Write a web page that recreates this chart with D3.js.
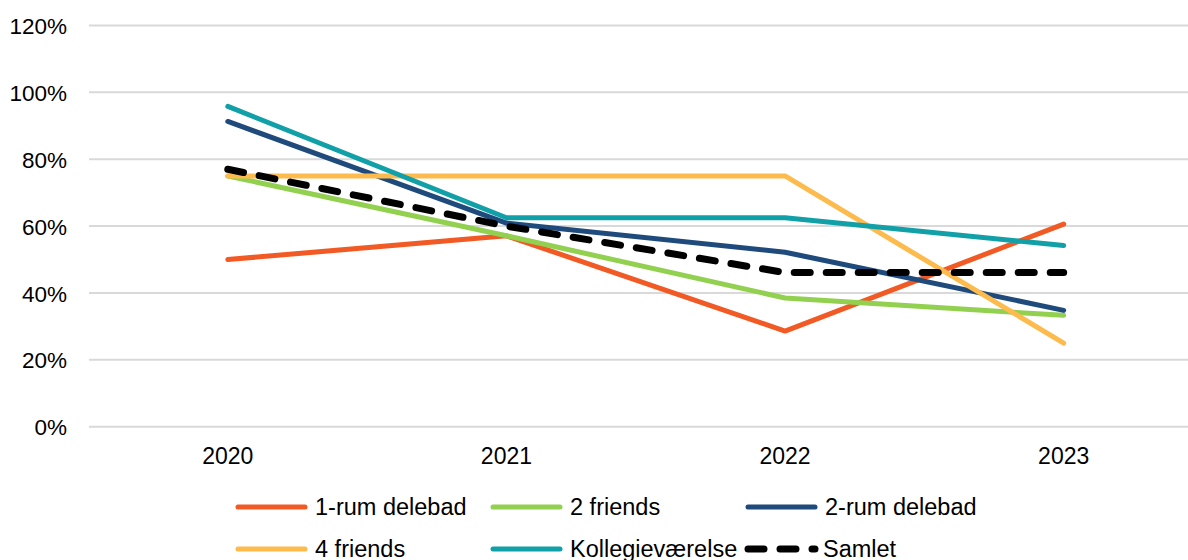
<!DOCTYPE html>
<html>
<head>
<meta charset="utf-8">
<script src="https://cdn.jsdelivr.net/npm/d3@7"></script>
<style>
  html, body { margin: 0; padding: 0; background: #fff; overflow: hidden; }
  svg { display: block; font-family: "Liberation Sans", Arial, sans-serif; }
</style>
</head>
<body>
<svg id="chart" width="1188" height="560"></svg>
<script>
// Years on the x axis
const years = ["2020", "2021", "2022", "2023"];

// Share per housing type, in percent
const rum1Delebad     = [50.0, 57.1, 28.6, 60.6];
const friends2        = [75.0, 57.1, 38.5, 33.3];
const rum2Delebad     = [91.3, 60.9, 52.2, 34.8];
const friends4        = [75.0, 75.0, 75.0, 25.0];
const kollegievaerelse = [95.8, 62.5, 62.5, 54.2];
const samlet          = [77.0, 60.0, 46.1, 46.1];

// Y axis tick values
const yTicks = [0, 20, 40, 60, 80, 100, 120];

const seriesNames  = ["1-rum delebad", "2 friends", "2-rum delebad", "4 friends", "Kollegieværelse", "Samlet"];
const seriesValues = [rum1Delebad, friends2, rum2Delebad, friends4, kollegievaerelse, samlet];
const seriesColors = ["#F15A24", "#92D050", "#1F4A7C", "#FDBA4D", "#12A0A8", "#000000"];

const series = seriesNames.map((name, i) => ({
  name, values: seriesValues[i], color: seriesColors[i], dashed: name === "Samlet"
}));

const svg = d3.select("#chart");

const x = d3.scaleBand().domain(years).range([88.5, 1203]);
const y = d3.scaleLinear().domain([0, 120]).range([426.7, 25.5]);

// Horizontal gridlines
svg.append("g")
  .selectAll("line")
  .data(yTicks)
  .join("line")
  .attr("x1", 89).attr("x2", 1188)
  .attr("y1", d => y(d)).attr("y2", d => y(d))
  .attr("stroke", "#d9d9d9").attr("stroke-width", 2);

// Y axis labels
const yAxis = d3.axisLeft(y).tickValues(yTicks).tickFormat(d => d + "%").tickSize(0).tickPadding(0);
const gy = svg.append("g").attr("transform", "translate(67,0)").call(yAxis);
gy.select(".domain").remove();
gy.selectAll("text").attr("font-size", 22.5).attr("fill", "#000")
  .attr("font-family", "Liberation Sans, Arial, sans-serif").attr("dy", "0.36em");

// X axis labels
const xAxis = d3.axisBottom(x).tickSize(0).tickPadding(0);
const gx = svg.append("g").attr("transform", "translate(0,447)").call(xAxis);
gx.select(".domain").remove();
gx.selectAll("text").attr("font-size", 23).attr("fill", "#000")
  .attr("font-family", "Liberation Sans, Arial, sans-serif").attr("dy", "0.72em");

// Series lines
const line = d3.line()
  .x((d, i) => x(years[i]) + x.bandwidth() / 2)
  .y(d => y(d));

svg.append("g")
  .selectAll("path")
  .data(series)
  .join("path")
  .attr("d", d => line(d.values))
  .attr("fill", "none")
  .attr("stroke", d => d.color)
  .attr("stroke-width", d => d.dashed ? 7 : 5)
  .attr("stroke-linecap", "round")
  .attr("stroke-linejoin", "round")
  .attr("stroke-dasharray", d => d.dashed ? "16,16" : null);

// Legend: two rows of three
const legendCols = [238, 493, 748];
const legendRows = [507, 549];
const legend = svg.append("g")
  .selectAll("g")
  .data(series)
  .join("g")
  .attr("transform", (d, i) => `translate(${legendCols[i % 3]},${legendRows[Math.floor(i / 3)]})`);

legend.append("line")
  .attr("x1", 0).attr("x2", 67)
  .attr("stroke", d => d.color)
  .attr("stroke-width", d => d.dashed ? 7 : 5)
  .attr("stroke-linecap", "round")
  .attr("stroke-dasharray", d => d.dashed ? "16,16" : null);

legend.append("text")
  .attr("x", d => d.dashed ? 75 : 77)
  .attr("dy", "0.36em")
  .attr("font-size", 23.5)
  .attr("fill", "#000")
  .text(d => d.name);
</script>
</body>
</html>
